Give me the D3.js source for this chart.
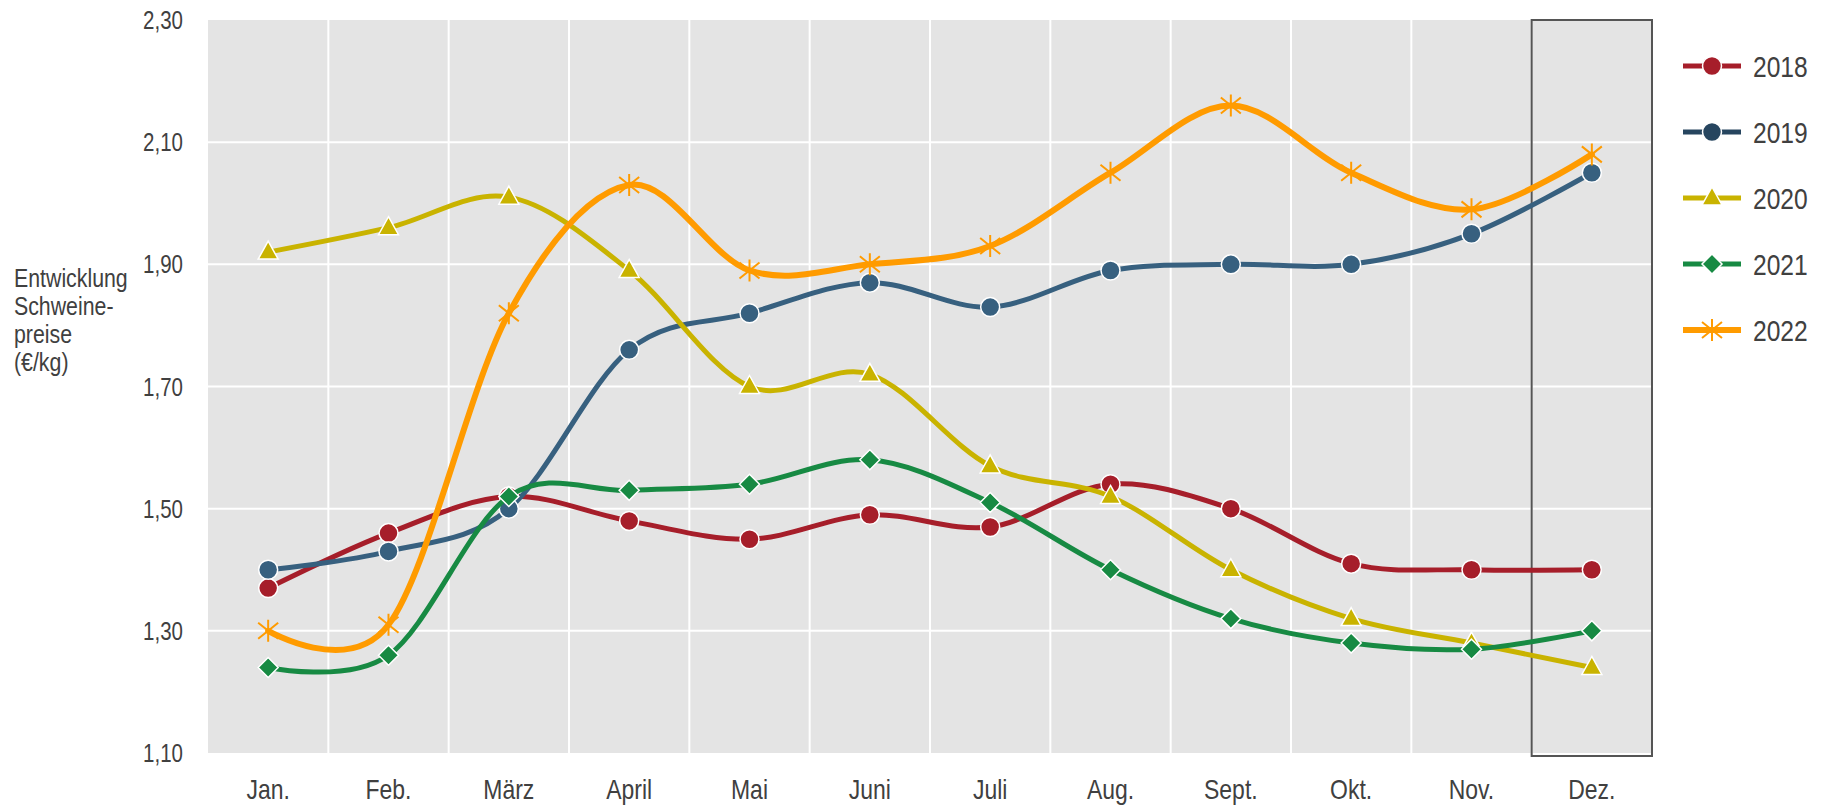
<!DOCTYPE html>
<html>
<head>
<meta charset="utf-8">
<script src="https://cdnjs.cloudflare.com/ajax/libs/d3/7.8.5/d3.min.js"></script>
<style>
  body { margin: 0; background: #fff; }
  text { font-family: "Liberation Sans", Arial, sans-serif; fill: #404040; }
</style>
</head>
<body>
<svg id="chart" width="1825" height="806"></svg>
<script>
// months on the x axis
let months = ['Jan.', 'Feb.', 'März', 'April', 'Mai', 'Juni', 'Juli', 'Aug.', 'Sept.', 'Okt.', 'Nov.', 'Dez.'];
let yTicks = [1.10, 1.30, 1.50, 1.70, 1.90, 2.10, 2.30];
let years = ['2018', '2019', '2020', '2021', '2022'];

// pig prices per month (€/kg)
let prices2018 = [1.37, 1.46, 1.52, 1.48, 1.45, 1.49, 1.47, 1.54, 1.50, 1.41, 1.40, 1.40];
let prices2019 = [1.40, 1.43, 1.50, 1.76, 1.82, 1.87, 1.83, 1.89, 1.90, 1.90, 1.95, 2.05];
let prices2020 = [1.92, 1.96, 2.01, 1.89, 1.70, 1.72, 1.57, 1.52, 1.40, 1.32, 1.28, 1.24];
let prices2021 = [1.24, 1.26, 1.52, 1.53, 1.54, 1.58, 1.51, 1.40, 1.32, 1.28, 1.27, 1.30];
let prices2022 = [1.30, 1.31, 1.82, 2.03, 1.89, 1.90, 1.93, 2.05, 2.16, 2.05, 1.99, 2.08];

let seriesInfo = [
    {year: years[0], values: prices2018, color: '#A61E2A', legendColor: '#A61E2A', marker: 'circle', width: 5},
    {year: years[1], values: prices2019, color: '#37607F', legendColor: '#26455F', marker: 'circle', width: 5},
    {year: years[2], values: prices2020, color: '#C9B300', legendColor: '#C9B300', marker: 'triangle', width: 5},
    {year: years[3], values: prices2021, color: '#178A43', legendColor: '#178A43', marker: 'diamond', width: 5},
    {year: years[4], values: prices2022, color: '#FF9B00', legendColor: '#FF9B00', marker: 'star', width: 6}
];

//the original uses a narrow font, squeeze the regular one
let narrow = 'scale(0.82,1)';

let svg = d3.select('#chart');

let plotLeft = 208, plotRight = 1652, plotTop = 20, plotBottom = 753;

let x = d3.scaleBand()
    .domain(months)
    .range([plotLeft, plotRight]);

let y = d3.scaleLinear()
    .domain([1.10, 2.30])
    .range([plotBottom, plotTop]);

let xc = m => x(m) + x.bandwidth() / 2;

//plot background
svg.append('rect')
    .attr('x', plotLeft).attr('y', plotTop)
    .attr('width', plotRight - plotLeft).attr('height', plotBottom - plotTop)
    .attr('fill', '#E4E4E4');

//grid lines
svg.append('g').selectAll('line')
    .data(yTicks.slice(1, -1))
    .join('line')
    .attr('x1', plotLeft).attr('x2', plotRight)
    .attr('y1', d => y(d)).attr('y2', d => y(d))
    .attr('stroke', '#fff').attr('stroke-width', 2);

svg.append('g').selectAll('line')
    .data(months.slice(1))
    .join('line')
    .attr('x1', d => x(d)).attr('x2', d => x(d))
    .attr('y1', plotTop).attr('y2', plotBottom)
    .attr('stroke', '#fff').attr('stroke-width', 2);

//y axis
let yAxis = svg.append('g')
    .attr('transform', 'translate(' + 183 + ',0)')
    .call(d3.axisLeft(y).tickValues(yTicks).tickSize(0).tickPadding(0)
        .tickFormat(d => d3.format('.2f')(d).replace('.', ',')));
yAxis.select('.domain').remove();
yAxis.selectAll('text')
    .attr('x', 0)
    .attr('font-size', 25)
    .attr('dy', '0.34em')
    .attr('transform', narrow)
    .style('font-family', '"Liberation Sans", Arial, sans-serif')
    .attr('fill', '#404040');

//x axis
let xAxis = svg.append('g')
    .attr('transform', 'translate(0,' + 772 + ')')
    .call(d3.axisBottom(x).tickSize(0).tickPadding(0));
xAxis.select('.domain').remove();
xAxis.selectAll('text')
    .attr('font-size', 28)
    .attr('dy', '0.95em')
    .attr('transform', narrow)
    .style('font-family', '"Liberation Sans", Arial, sans-serif')
    .attr('fill', '#404040');

//y axis title
let title = svg.append('text')
    .attr('transform', 'translate(14,287) ' + narrow)
    .attr('font-size', 26);
['Entwicklung', 'Schweine-', 'preise', '(€/kg)'].forEach((t, i) => {
    title.append('tspan').attr('x', 0).attr('dy', i == 0 ? 0 : 28).text(t);
});

//highlight box for december
svg.append('rect')
    .attr('x', x('Dez.')).attr('y', plotTop)
    .attr('width', x.bandwidth()).attr('height', plotBottom - plotTop + 3)
    .attr('fill', 'none')
    .attr('stroke', '#555').attr('stroke-width', 2);

//marker shapes
function drawMarker(g, type, color) {
    if (type == 'circle') {
        g.append('circle').attr('r', 9.5)
            .attr('fill', color).attr('stroke', '#fff').attr('stroke-width', 1.5);
    } else if (type == 'triangle') {
        g.append('path').attr('d', 'M0,-11L10,7L-10,7Z')
            .attr('fill', color).attr('stroke', '#fff').attr('stroke-width', 1.5);
    } else if (type == 'diamond') {
        g.append('path').attr('d', 'M0,-10L10,0L0,10L-10,0Z')
            .attr('fill', color).attr('stroke', '#fff').attr('stroke-width', 1.5);
    } else if (type == 'star') {
        g.append('path').attr('d', 'M0,-11L0,11M-10,-8L10,8M-10,8L10,-8')
            .attr('fill', 'none').attr('stroke', color).attr('stroke-width', 2);
    }
}

let line = d3.line()
    .x((d, i) => xc(months[i]))
    .y(d => y(d))
    .curve(d3.curveCardinal.tension(0));

seriesInfo.forEach(s => {
    let g = svg.append('g');
    if (s.marker == 'star') {
        //stars sit under the line
        g.selectAll('g.m').data(s.values).join('g').attr('class', 'm')
            .attr('transform', (d, i) => 'translate(' + xc(months[i]) + ',' + y(d) + ')')
            .each(function () { drawMarker(d3.select(this), s.marker, s.color); });
    }
    g.append('path')
        .datum(s.values)
        .attr('d', line)
        .attr('fill', 'none')
        .attr('stroke', s.color)
        .attr('stroke-width', s.width)
        .attr('stroke-linecap', 'round');
    if (s.marker != 'star') {
        g.selectAll('g.m').data(s.values).join('g').attr('class', 'm')
            .attr('transform', (d, i) => 'translate(' + xc(months[i]) + ',' + y(d) + ')')
            .each(function () { drawMarker(d3.select(this), s.marker, s.color); });
    }
});

//legend
let legend = svg.append('g').selectAll('g')
    .data(seriesInfo)
    .join('g')
    .attr('transform', (d, i) => 'translate(1712,' + (66 + i * 66) + ')');

legend.append('line')
    .attr('x1', -29).attr('x2', 29)
    .attr('stroke', d => d.legendColor)
    .attr('stroke-width', d => d.width);

legend.each(function (d) { drawMarker(d3.select(this), d.marker, d.legendColor); });

legend.append('text')
    .attr('transform', 'translate(41,0) ' + narrow)
    .attr('dy', '0.36em')
    .attr('font-size', 30)
    .text(d => d.year);
</script>
</body>
</html>
